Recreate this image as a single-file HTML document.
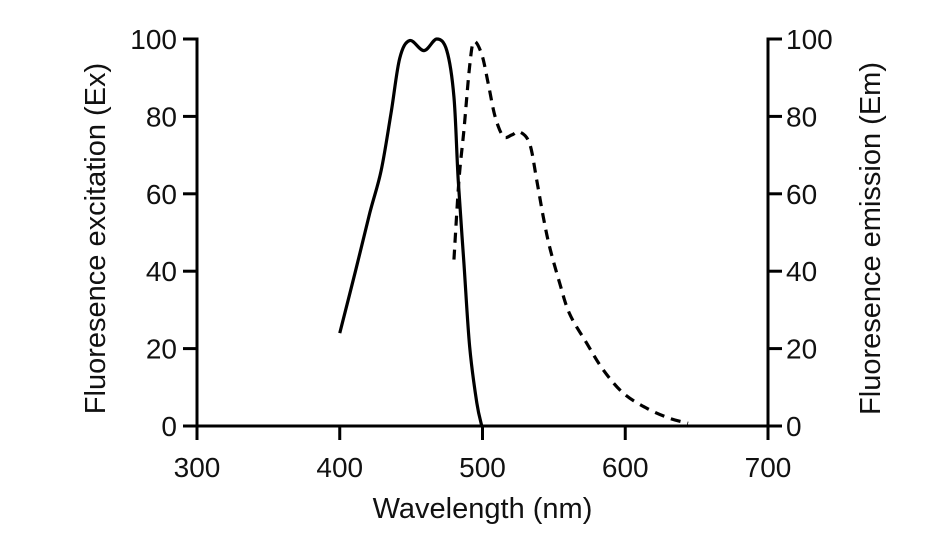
<!DOCTYPE html>
<html><head><meta charset="utf-8"><style>
html,body{margin:0;padding:0;background:#fff}
svg{display:block}
text{font-family:"Liberation Sans",sans-serif;fill:#111}
</style></head><body>
<svg id="chart" width="945" height="543"></svg>
<script>
const xTicks=[300,400,500,600,700];
const yTicks=[0,20,40,60,80,100];
const exWavelengths=[400,411,421,429,436,442,449,459,468,475,480,483,487,491,496,499.5];
const exValues=[24,40,55,66,81,95,99.6,97,100,97,85,63.5,42,20.5,6,0];
const emWavelengths=[480,483.5,487,491,494,499.5,504,508.8,514.6,520.5,526,533,538,542.6,547,554,561,573,584.6,598.6,615,631,644];
const emValues=[43,63.5,76.5,93,99.3,96,88.5,80,74.8,75.2,76,73,63.5,54,46.3,37,29,21.4,14.5,8.5,4.6,2,0.7];

const NS="http://www.w3.org/2000/svg";
const svg=document.getElementById('chart');
const X0=197,X1=768,Y0=426,Y1=39;
const sx=v=>X0+(v-300)/400*(X1-X0);
const sy=v=>Y0-v/100*(Y0-Y1);
function mk(tag,attrs,parent){const e=document.createElementNS(NS,tag);for(const k in attrs)e.setAttribute(k,attrs[k]);(parent||svg).appendChild(e);return e;}
function smooth(xs,ys){
  const p=xs.map((x,i)=>[sx(x),sy(ys[i])]);
  let d=`M${p[0][0]},${p[0][1]}`;
  for(let i=0;i<p.length-1;i++){
    const a=p[Math.max(0,i-1)],b=p[i],c=p[i+1],e=p[Math.min(p.length-1,i+2)];
    const c1=[b[0]+(c[0]-a[0])/6,b[1]+(c[1]-a[1])/6];
    const c2=[c[0]-(e[0]-b[0])/6,c[1]-(e[1]-b[1])/6];
    d+=` C${c1[0]},${c1[1]} ${c2[0]},${c2[1]} ${c[0]},${c[1]}`;
  }
  return d;
}
// axes
let ax=mk('line',{x1:X0,y1:Y0,x2:X1,y2:Y0,stroke:'#000','stroke-width':3});


let ayl=mk('line',{x1:X0,y1:Y0+1.5,x2:X0,y2:Y1-1.5,stroke:'#000','stroke-width':3});


let ayr=mk('line',{x1:X1,y1:Y0+1.5,x2:X1,y2:Y1-1.5,stroke:'#000','stroke-width':3});


xTicks.forEach(v=>{
  const t=mk('line',{x1:sx(v),y1:Y0,x2:sx(v),y2:Y0+14,stroke:'#000','stroke-width':3});
  
  
  const l=mk('text',{x:sx(v),y:477,'text-anchor':'middle','font-size':28});
  l.textContent=v;
  
  
});
yTicks.forEach(v=>{
  const t=mk('line',{x1:X0-14,y1:sy(v),x2:X0,y2:sy(v),stroke:'#000','stroke-width':3});
  
  
  const l=mk('text',{x:X0-20,y:sy(v)+10,'text-anchor':'end','font-size':28});
  l.textContent=v;
  
  
  const t2=mk('line',{x1:X1,y1:sy(v),x2:X1+14,y2:sy(v),stroke:'#000','stroke-width':3});
  
  
  const l2=mk('text',{x:X1+18,y:sy(v)+10,'text-anchor':'start','font-size':28});
  l2.textContent=v;
  
  
});
const xt=mk('text',{x:(X0+X1)/2,y:518,'text-anchor':'middle','font-size':29});
xt.textContent='Wavelength (nm)';


const yl=mk('text',{x:0,y:0,'text-anchor':'middle','font-size':29,transform:`translate(105,${(Y0+Y1)/2+6}) rotate(-90)`});
yl.textContent='Fluoresence excitation (Ex)';


const yr=mk('text',{x:0,y:0,'text-anchor':'middle','font-size':29,transform:`translate(880,${(Y0+Y1)/2+6}) rotate(-90)`});
yr.textContent='Fluoresence emission (Em)';


const ex=mk('path',{d:smooth(exWavelengths,exValues),fill:'none',stroke:'#000','stroke-width':3.2,'stroke-linejoin':'round'});


const em=mk('path',{d:smooth(emWavelengths,emValues),fill:'none',stroke:'#000','stroke-width':3.2,'stroke-dasharray':'10,7'});


</script>
</body></html>
